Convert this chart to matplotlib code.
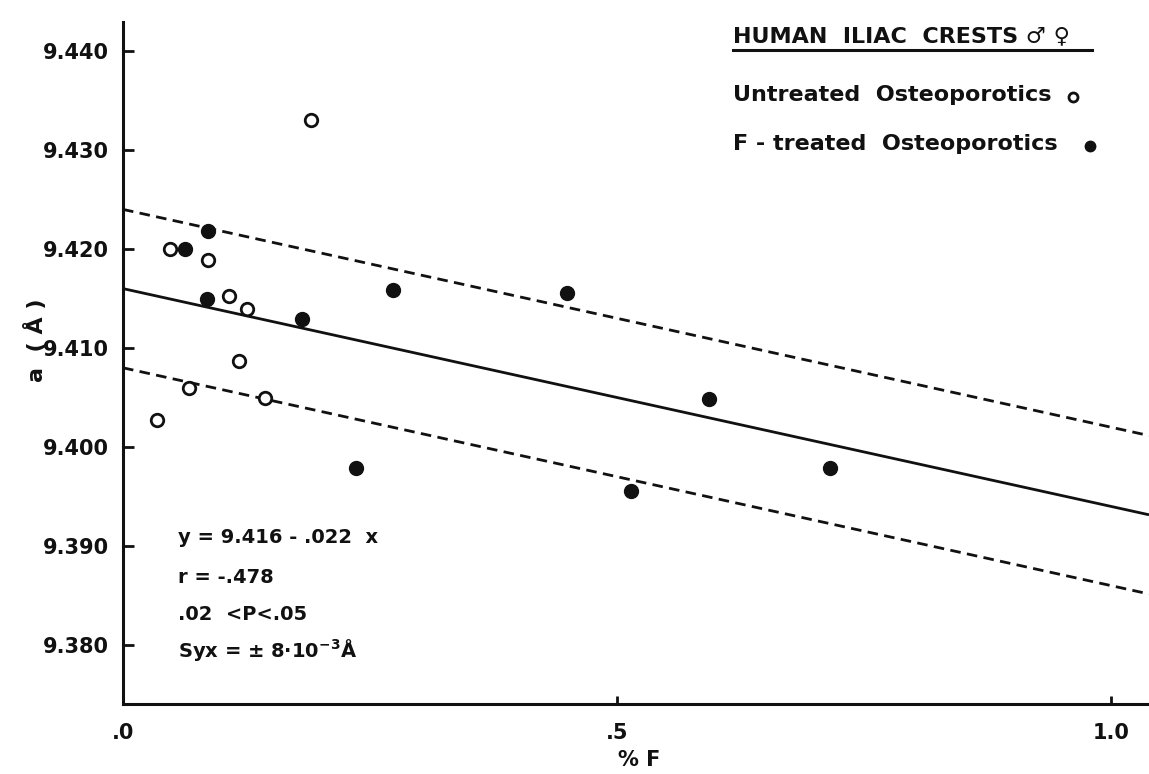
import matplotlib
matplotlib.use("Agg")
import matplotlib.pyplot as plt
import numpy as np
from matplotlib.lines import Line2D

# untreated osteoporotics (open circles)
untreated_f = [0.034, 0.048, 0.086, 0.107, 0.126, 0.117, 0.067, 0.144, 0.190]
untreated_a = [9.4027, 9.4200, 9.4189, 9.4153, 9.4139, 9.4087, 9.4060, 9.4050, 9.4330]

# F-treated osteoporotics (filled circles)
treated_f = [0.063, 0.086, 0.085, 0.181, 0.236, 0.273, 0.449, 0.514, 0.593, 0.716]
treated_a = [9.4200, 9.4218, 9.4150, 9.4129, 9.3979, 9.4159, 9.4156, 9.3956, 9.4048, 9.3979]

# regression y = 9.416 - .022 x, band +/- Syx
intercept = 9.416
slope = -0.022
syx = 0.008

yticks = [9.380, 9.390, 9.400, 9.410, 9.420, 9.430, 9.440]
ytick_labels = ["9.380", "9.390", "9.400", "9.410", "9.420", "9.430", "9.440"]
xticks = [0.0, 0.5, 1.0]
xtick_labels = [".0", ".5", "1.0"]

W, H = 1149, 774
INK = "#111111"

fig = plt.figure(figsize=(W / 100, H / 100), dpi=100)
ax = fig.add_axes([123 / W, 1 - 704 / H, 1 - 123 / W, (704 - 22) / H])

xmax = 1.0385
ax.set_xlim(0, xmax)
ax.set_ylim(9.37404, 9.44293)

# fit line and confidence band
xx = np.array([0, xmax])
fit = intercept + slope * xx
ax.plot(xx, fit, color=INK, lw=2.0, solid_capstyle="butt")
ax.plot(xx, fit + syx, color=INK, lw=2.0, dashes=(3.8, 2.3))
ax.plot(xx, fit - syx, color=INK, lw=2.0, dashes=(3.8, 2.3))

ax.plot(untreated_f, untreated_a, "o", ms=9, mfc="white", mec=INK, mew=2.0, ls="none", zorder=3)
ax.plot(treated_f, treated_a, "o", ms=10, mfc=INK, mec=INK, mew=1.0, ls="none", zorder=3)

for s in ["top", "right"]:
    ax.spines[s].set_visible(False)
for s in ["left", "bottom"]:
    ax.spines[s].set_linewidth(2.2)
    ax.spines[s].set_color(INK)

ax.set_yticks(yticks)
ax.set_yticklabels(ytick_labels, fontweight="bold")
ax.set_xticks(xticks)
ax.set_xticklabels(xtick_labels, fontweight="bold")
ax.tick_params(axis="y", direction="in", length=8, width=2, pad=10,
               labelsize=15, colors=INK)
ax.tick_params(axis="x", direction="in", length=6, width=2, pad=14,
               labelsize=15, colors=INK)

# axis labels
fig.text(35 / W, 1 - 340 / H, "a  ( Å )", rotation=90, fontsize=16,
         fontweight="bold", ha="center", va="center", color=INK)
fig.text(639 / W, 1 - 760 / H, "% F", fontsize=15, fontweight="bold",
         ha="center", va="center", color=INK)

# legend block top right
fig.text(733 / W, 1 - 42 / H, "HUMAN  ILIAC  CRESTS ♂ ♀", fontsize=16,
         fontweight="bold", ha="left", va="baseline", color=INK)
fig.add_artist(Line2D([733 / W, 1092 / W], [1 - 50 / H, 1 - 50 / H],
                      color=INK, lw=2.2, transform=fig.transFigure))
fig.text(733 / W, 1 - 101 / H, "Untreated  Osteoporotics", fontsize=16,
         fontweight="bold", ha="left", va="baseline", color=INK)
fig.text(733 / W, 1 - 150 / H, "F - treated  Osteoporotics", fontsize=16,
         fontweight="bold", ha="left", va="baseline", color=INK)
fig.add_artist(Line2D([1073 / W], [1 - 97 / H], marker="o", ms=6.5, mfc="white",
                      mec=INK, mew=2.0, transform=fig.transFigure))
fig.add_artist(Line2D([1090 / W], [1 - 146 / H], marker="o", ms=7.5, mfc=INK,
                      mec=INK, transform=fig.transFigure))

# regression stats
stats = ["y = 9.416 - .022  x", "r = -.478", ".02  <P<.05",
         "Syx = ± 8·10$^{\\mathbf{-3}}$Å"]
base_y = [543, 583, 620, 657]
for s, by in zip(stats, base_y):
    fig.text(178 / W, 1 - by / H, s, fontsize=14, fontweight="bold",
             ha="left", va="baseline", color=INK)

fig.savefig("out.png", dpi=100, facecolor="white")
